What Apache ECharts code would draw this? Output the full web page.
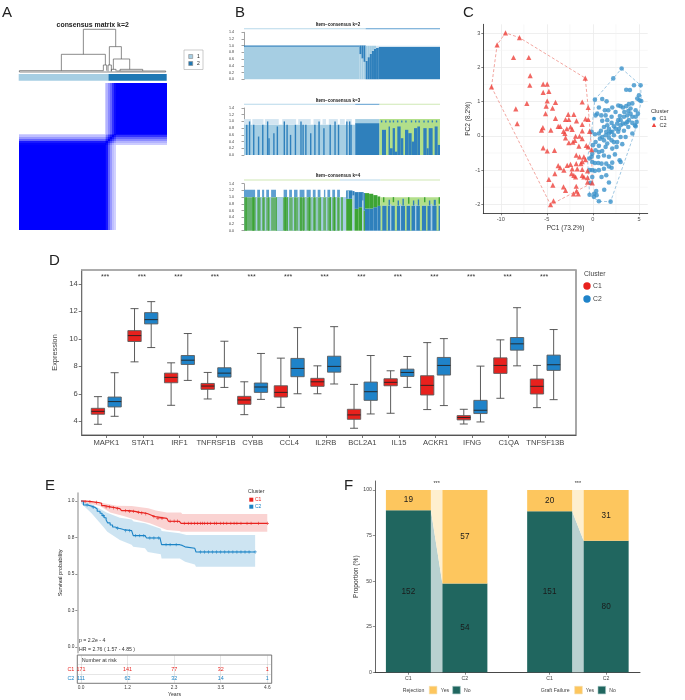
<!DOCTYPE html>
<html><head><meta charset="utf-8">
<style>html,body{margin:0;padding:0;background:#fff}#c{width:685px;height:700px}</style>
<script src="https://cdn.jsdelivr.net/npm/echarts@6/dist/echarts.min.js"></script>
</head><body><div id="c"></div>
<script>
const FF='"Liberation Sans",Arial,sans-serif';
// ---------- Panel A
const sampleClusters=[171,111];
const heatBreaks=[0,164,167,170,174,178,182,185,282];
const consensusBlocks=[
[1,.98,.9,.6,.4,.25,.18,0],
[.98,1,.95,.7,.5,.35,.25,.2],
[.9,.95,1,.85,.7,.55,.4,.3],
[.6,.7,.85,1,.9,.75,.6,.45],
[.4,.5,.7,.9,1,.9,.75,.6],
[.25,.35,.55,.75,.9,1,.9,.8],
[.18,.25,.4,.6,.75,.9,1,.95],
[0,.2,.3,.45,.6,.8,.95,1]];
const dendroSegments=[
[194,128,291,128],[194,128,194,53],[291,128,291,76],
[128,53,260,53],[128,53,128,4],[260,53,260,21],
[2,4,254,4],[2,4,2,0],[254,21,264,21],[254,21,254,4],[264,21,264,4],
[272,76,308,76],[272,76,272,21],[308,76,308,39],
[284,39,333,39],[284,39,284,8],[333,39,333,8],
[268,21,278,21],[268,21,268,2],[278,21,278,2],
[278,8,292,8],[278,8,278,2],[292,8,292,2],
[304,8,372,8],[304,8,304,3],[372,8,372,3],
[294,3,441,3],[441,3,441,0],[2,0,441,0]];
// ---------- Panel B  (runs: first sample, last sample, colour, from, to)
const bPalette=['#A6CEE3','#2F80BC','#B2DF8A','#3DA435','#66B271','#5E9FD1','#D3E5F1'];
const k2Runs=[[0,166,0,0,.97],[0,166,1,.97,1.01],[166,169,0,0,.75],[166,169,1,.75,1.01],[169,172,0,0,.62],[169,172,1,.62,1.01],[172,175,0,0,.52],[172,175,1,.52,1.01],
[175,178,1,0,.55],[175,178,0,.55,1],[178,181,1,0,.66],[178,181,0,.66,1],[181,184,1,0,.76],[181,184,0,.76,1],[184,187,1,0,.85],[184,187,0,.85,1],[187,190,1,0,.91],[187,190,0,.91,1],[190,194,1,0,.94],[190,194,6,.94,1],[194,282,1,0,.96],[194,282,6,.96,1]];
const k3Base=[[0,160,0,0,.9],[160,195,1,0,.95],[160,195,0,.95,1.07],[195,282,2,0,1.07]];
const k3Caps=[[0,10],[12,28],[30,50],[55,75],[78,96],[100,110],[113,118],[122,135],[138,145],[147,155]];
const k3Stripes=[[3,.9],[7,1],[13,.9],[20,.55],[26,.9],[33,1],[35,.5],[42,.65],[47,.85],[57,1],[61,.9],[66,.6],[73,.9],[81,1],[84,.9],[88,.9],[95,.65],[101,.9],[107,1],[114,.8],[123,.9],[130,1],[135,.9],[147,1],[151,1],[153,.9]];
const k3DarkRuns=[[195,198.5,0],[198.5,204.3,.75],[204.3,208,0],[208,210,.85],[210,213.9,.2],[213.9,217.2,.8],[217.2,220.6,.1],[220.6,225.4,.85],[225.4,229.2,.5],[229.2,231.6,0],[231.6,236.4,.75],[236.4,241.2,.65],[241.2,244.6,.4],[244.6,249.4,.8],[249.4,253.2,.85],[253.2,258,0],[258,262.8,.8],[262.8,265.7,.2],[265.7,271.4,.8],[271.4,274.3,0],[274.3,278.6,.85],[278.6,282,.3]];
const k3TopDots=[197,203,209,214,220,226,232,240,246,251,258,264,270,276];
const k4Base=[[0,138,4,0,1]];
const k4Pale=[[17,2],[24,2],[30,2],[37,2],[47,9],[63,2],[70,2],[78,2],[88,2],[97,2],[104,2],[111,3],[118,2],[125,2],[132,2]];
const k4Green=[[2,2],[12,3],[21,1],[28,1],[35,1],[46,1],[58,3],[62,1],[73,1],[81,2],[85,1],[93,2],[101,1],[109,1],[123,2],[129,2],[135,1]];
const k4Caps=[[0,16],[19,23],[26,29],[32,36],[39,46],[57,62],[65,69],[72,77],[80,87],[90,96],[99,103],[106,110],[115,117],[120,124],[127,131],[134,138]];
const k4Right=[[138,147,0,0,1],[140,142,3,0,1],[147,156,3,0,.95],[147,156,1,.95,1.2],[149,151,0,.95,1.2],[156,159,0,0,1.05],[156,159,1,1.05,1.18],
[159,165,3,0,.65],[159,165,1,.65,1.15],[165,170,3,0,.7],[165,170,1,.7,1.15],[170,172,0,0,.9],[170,172,1,.9,1.15],[172,174,3,0,.6],[172,174,1,.6,1.12],
[174,180,1,0,.66],[174,180,3,.66,1.12],[180,186,1,0,.66],[180,186,3,.66,1.1],[186,192,1,0,.7],[186,192,3,.7,1.06],[192,196,1,0,.74],[192,196,3,.74,1.02],
[196,282,1,0,.75],[196,282,2,.75,1],
[196.6,199,2,0,.8],[205,207,2,0,.8],[210,212,0,0,.8],[217,220,2,0,.8],[224.4,226,0,0,.8],[231.6,234,2,0,.8],[239,241,2,0,.8],[246,248,0,0,.8],[253,256,2,0,.8],[262,264,2,0,.8],[268.5,271,0,0,.8],[277,280,2,0,.8],
[200,202,3,.85,1],[208,210,1,.75,.92],[214,216,3,.85,1],[221,223,1,.75,.9],[228,230,1,.75,.95],[236,238,3,.8,1],[243,245,1,.75,.9],[250,252,1,.75,.93],[259,261,3,.85,1],[266,268,1,.75,.9],[273,276,1,.75,.92],[280,282,3,.8,1]];
// ---------- Panel C
const pcaC1=[[3.12,1.97],[2.21,1.68],[4.46,1.48],[5.18,1.48],[3.62,1.35],[4.02,1.34],[5,1.19],[.22,1.06],[1.01,1.08],[1.49,1.01],[4.82,1.09],[5.25,1.02],[3.01,.87],[2.1,.83],[1.67,.75],[1.3,.75],[.65,.83],[.47,.65],[.29,.6],[1.01,.44],[1.56,.46],[2.03,.56],[2.75,.89],[3.26,.83],[3.62,.87],[3.91,.93],[4.28,.95],[4.64,.75],[4.09,.65],[3.73,.6],[3.37,.56],[2.93,.58],[2.46,.7],[2.03,.38],[1.56,.31],[1.2,.26],[.87,.15],[.65,.07],[.22,.05],[-.14,.12],[1.74,.21],[2.1,.12],[2.46,.21],[2.83,.21],[3.26,.36],[3.73,.41],[4.28,.38],[4.64,.28],[3.84,.26],[3.37,.15],[2.75,.12],[2.28,.02],[1.74,.07],[1.38,.02],[1.01,-.03],[1.2,-.13],[.29,-.18],[0,-.27],[.65,-.29],[1.74,-.05],[2.03,-.13],[2.64,-.18],[3.55,-.03],[4.28,.07],[4.57,.31],[3.19,-.24],[2.57,-.32],[2.1,-.37],[1.38,-.32],[1.01,-.44],[.65,-.47],[.29,-.42],[-.07,-.52],[-.36,-.66],[-.14,-.61],[.58,-.61],[1.2,-.57],[1.74,-.61],[2.39,-.54],[2.9,-.71],[3.01,-.76],[2.1,-.78],[1.45,-.81],[.94,-.81],[.22,-.79],[.58,-.79],[-.07,-.76],[1.2,-.96],[1.74,-.89],[2.03,-.93],[.65,-1],[.22,-1.02],[-.07,-1],[-.36,-1],[1.45,-1.15],[.94,-1.2],[-.07,-1.2],[-.25,-1.37],[1.74,-1.36],[1.23,-1.57],[.36,-1.61],[.14,-1.69],[.4,-1.73],[-.36,-1.72],[.11,-1.78],[.65,-1.91],[1.92,-1.92],[4.64,.56],[4.89,.65],[4.28,.56],[3.91,.46],[3.55,.36],[3.01,.31],[2.64,.36],[2.28,.28],[1.92,.12],[1.45,.12],[4.09,.8],[3.84,.73],[3.41,.7],[3.01,.46],[2.75,.46],[4.75,.41],[5.07,1.04],[.91,.6],[1.38,.6],[.76,-.08],[1.56,-.22],[2.28,-.18],[3.01,-.03]];
const pcaC2=[[-9.49,3.01],[-10.4,2.66],[-7.97,2.87],[-8.62,2.29],[-6.96,2.29],[-6.81,1.76],[-6.85,1.48],[-11.01,1.43],[-.83,1.69],[-5.4,1.51],[-4.96,1.51],[-5.4,1.27],[-4.78,1.3],[-7.17,.95],[-8.37,.79],[-8.22,.36],[-4.96,1.02],[-5.07,.87],[-4.06,.98],[-4.38,.81],[-5.14,.65],[-4.06,.51],[-2.68,.63],[-2.07,.63],[-1.16,.99],[-.51,.83],[-2.97,.48],[-2.61,.48],[-1.78,.44],[-.8,.5],[-.51,.48],[-1.16,.34],[-5.43,.24],[-5.58,.17],[-4.57,.17],[-3.77,.28],[-3.55,.28],[-3.19,.13],[-3.04,.07],[-2.43,.26],[-2.25,.19],[-2.83,.21],[-1.16,.15],[-.36,.13],[-1.88,-.01],[-1.45,-.01],[-1.16,-.08],[-2.97,-.06],[-2.61,-.2],[-2.17,-.18],[-1.96,-.13],[-1.52,-.3],[-.72,-.28],[-.51,-.32],[-.14,-.4],[-5.4,-.35],[-4.96,-.44],[-4.17,-.42],[-1.81,-.56],[-1.45,-.61],[-.98,-.61],[-1.81,-.81],[-1.3,-.81],[-.8,-.69],[-1.16,-.75],[-2.43,-.83],[-2.79,-.86],[-3.77,-.87],[-3.55,-.93],[-2.25,-.96],[-1.7,-.96],[-1.16,-.98],[-3.15,-1],[-4.13,-1.1],[-4.78,-1.27],[-4.35,-1.44],[-3.19,-1.49],[-2.97,-1.59],[-2.32,-1.1],[-2.07,-1.15],[-1.88,-1.2],[-1.16,-1.15],[-.98,-1.2],[-.58,-1.02],[-.58,-1.22],[-.58,-1.35],[-.07,-1.37],[-1.81,-1.47],[-1.78,-1.61],[-1.59,-1.69],[-2.1,-1.69],[-4.28,-1.9],[-4.6,-2.01]];
const hullC1=[[3.12,1.97],[5.18,1.48],[5.25,1.02],[4.5,.07],[1.92,-1.92],[.65,-1.91],[-.36,-1.72],[-.58,-.66],[-.14,.12],[.22,1.06],[2.21,1.68],[3.12,1.97]];
const hullC2=[[-11.01,1.43],[-10.4,2.66],[-9.49,3.01],[-7.97,2.87],[-.83,1.69],[-.51,.83],[-.14,-.4],[-.07,-1.37],[-4.6,-2.01],[-11.01,1.43]];
const pcaMinorX=[-7.5,-2.5,2.5];
const pcaMinorY=[-1.5,-.5,.5,1.5,2.5];
// ---------- Panel D  (low, q1, median, q3, high)
const genes=['MAPK1','STAT1','IRF1','TNFRSF1B','CYBB','CCL4','IL2RB','BCL2A1','IL15','ACKR1','IFNG','C1QA','TNFSF13B'];
const boxC1=[[3.78,4.51,4.72,4.94,5.79],[8.32,9.8,10.23,10.59,12.19],[5.16,6.8,7.19,7.5,8.25],[5.62,6.32,6.56,6.75,7.55],[4.48,5.23,5.55,5.81,6.87],[5.01,5.76,6.1,6.58,8.59],[6,6.54,6.87,7.12,8.03],[3.49,4.14,4.46,4.87,6.68],[4.58,6.58,6.83,7.09,7.67],[4.85,5.91,6.61,7.31,9.72],[3.8,4.1,4.27,4.41,4.87],[5.67,7.48,8.06,8.61,9.92],[4.99,5.98,6.54,7.07,8.06]];
const boxC2=[[4.36,5.04,5.43,5.76,7.53],[9.36,11.08,11.39,11.9,12.7],[6.97,8.13,8.44,8.78,10.38],[6.46,7.21,7.5,7.89,9.82],[5.59,6.1,6.49,6.78,8.93],[6,7.24,7.84,8.57,10.81],[6.71,7.57,7.99,8.73,10.88],[4.53,5.52,6.15,6.85,8.78],[6.46,7.26,7.55,7.79,8.71],[5.14,7.36,8.06,8.64,10.01],[3.95,4.56,4.8,5.52,8.01],[8.03,9.17,9.63,10.09,12.26],[5.57,7.7,8.11,8.81,10.67]];
// ---------- Panel E  (time, survival)
const survC1=[[0,1],[.1,.996],[.26,.99],[.43,.984],[.51,.968],[.6,.96],[.72,.954],[.85,.948],[.96,.943],[1,.934],[1.2,.929],[1.33,.922],[1.45,.918],[1.58,.913],[1.65,.903],[1.74,.893],[1.83,.881],[2.12,.877],[2.16,.861],[2.43,.858],[2.47,.847],[4.6,.847]];
const survC2=[[0,1],[.06,.973],[.16,.965],[.26,.957],[.34,.945],[.4,.93],[.47,.916],[.52,.9],[.57,.885],[.62,.87],[.66,.85],[.72,.836],[.78,.822],[.84,.813],[.94,.805],[1.05,.797],[1.25,.795],[1.29,.763],[1.58,.76],[1.62,.747],[1.95,.737],[1.99,.701],[2.44,.696],[2.5,.686],[2.57,.676],[2.81,.674],[2.84,.651],[4.3,.651]];
const bandC1Upper=[[0,1],[.47,.99],[.88,.968],[1.25,.966],[1.66,.95],[1.85,.935],[2.12,.922],[2.47,.922],[2.5,.911],[4.6,.911]];
const bandC1Lower=[[0,.995],[.47,.966],[.72,.922],[1.05,.897],[1.33,.874],[1.7,.847],[2.12,.801],[2.43,.795],[2.47,.79],[4.6,.79]];
const bandC2Upper=[[0,1],[.26,.977],[.63,.922],[.96,.886],[1.25,.874],[1.3,.86],[1.58,.847],[1.97,.81],[1.99,.795],[2.44,.779],[2.6,.767],[4.3,.767]];
const bandC2Lower=[[0,.984],[.26,.916],[.55,.824],[.65,.79],[.96,.733],[1.25,.7],[1.29,.687],[1.58,.676],[1.65,.65],[1.97,.635],[1.99,.607],[2.44,.607],[2.57,.584],[2.81,.565],[2.84,.55],[4.3,.55]];
const censorC1=[.1,.22,.38,.62,.7,.8,.9,1.1,1.2,1.3,1.42,1.5,1.6,1.8,1.9,2,2.2,2.3,2.38,2.55,2.65,2.72,2.8,2.88,2.95,3,3.05,3.12,3.2,3.3,3.35,3.45,3.52,3.6,3.7,3.78,3.85,3.95,4.1,4.2,4.38,4.6];
const censorC2=[.15,.3,.55,.9,1.1,1.2,1.35,1.45,1.55,1.7,1.8,1.92,2.1,2.2,2.35,2.95,3.05,3.15,3.25,3.35,3.45,3.55,3.65,3.75,3.85,3.95,4.05,4.15,4.3];
const riskTimes=[0,1.15,2.3,3.45,4.6];
const riskTickLabels=['0.0','1.2','2.3','3.5','4.6'];
const riskC1=[171,141,77,32,1];
const riskC2=[111,62,32,14,1];
const survTicks=[0,.25,.5,.75,1];
// ---------- Panel F
const stackedTicks=[0,1,2.5,3.5];
const stackedLabels=['C1','C2','C1','C2'];
const countNo=[152,54,151,80];
const countYes=[19,57,20,31];

// ---------- helpers
const C1RED='#E8211D',C2BLUE='#1F83C9',KMR='#E8231F',KMB='#1B83C6';
const TEAL='#20665F',AMBER='#FDC65E';
const pct=i=>countNo[i]/(countNo[i]+countYes[i])*100;
const rectSeries=(g,data,colorOf)=>({type:'custom',xAxisIndex:g,yAxisIndex:g,silent:true,animation:false,data,
 renderItem:(p,api)=>{const a=api.coord([api.value(0),api.value(4)]),b=api.coord([api.value(1),api.value(3)]);
  return {type:'rect',shape:{x:a[0],y:a[1],width:b[0]-a[0],height:b[1]-a[1]},style:{fill:colorOf(api.value(2))}};}});
const hiddenAxis=(g,min,max)=>({gridIndex:g,type:'value',min,max,show:false,splitLine:{show:false}});
const textSeries=(g,data,font,fill)=>({type:'custom',xAxisIndex:g,yAxisIndex:g,silent:true,animation:false,data,z:9,clip:false,
 renderItem:(p,api)=>{const c=api.coord([api.value(0),api.value(1)]);
  return {type:'text',x:c[0],y:c[1],style:{text:String(data[p.dataIndex][2]),fill,font,align:'center',verticalAlign:'middle',textAlign:'center',textVerticalAlign:'middle'}};}});
const T=(text,x,y,size,o={})=>({type:'text',silent:true,z:20,rotation:o.rot||0,x,y,style:{text,font:(o.bold?'bold ':'')+size+'px '+FF,fill:o.fill||'#222',align:o.align||'left',verticalAlign:'middle',textAlign:o.align||'left',textVerticalAlign:'middle'}});
const R=(x,y,w,h,fill,stroke)=>({type:'rect',silent:true,z:20,shape:{x,y,width:w,height:h},style:{fill,stroke:stroke||null,lineWidth:stroke?.6:0}});
const Cc=(cx,cy,r,fill)=>({type:'circle',silent:true,z:20,shape:{cx,cy,r},style:{fill}});

// grids
const grid=[
 {left:18.7,top:82.7,width:148,height:147.7},
 {left:18.7,top:74,width:148,height:6.7},
 {left:18.7,top:29.3,width:148,height:42.7},
 {left:244,top:32.3,width:196,height:47},
 {left:244,top:108,width:196,height:47},
 {left:244,top:183.7,width:196,height:47},
 {left:483.3,top:24.3,width:164.4,height:189},
 {left:81.7,top:270,width:494.3,height:165,show:true,borderColor:'#6e6e6e',borderWidth:1.2},
 {left:77.3,top:493,width:194.4,height:159.7},
 {left:77.3,top:655,width:194.4,height:28.3,show:true,borderColor:'#555',borderWidth:.8},
 {left:375,top:481,width:265,height:191.3}
];
const bY=g=>({gridIndex:g,type:'value',min:0,max:1.4,interval:.2,offset:8,
 axisLine:{show:true,lineStyle:{color:'#444',width:.5}},axisTick:{show:true,length:2.5,lineStyle:{color:'#444',width:.5}},
 axisLabel:{fontSize:3.6,color:'#333',margin:2,fontFamily:FF,formatter:v=>v.toFixed(1)},splitLine:{show:false}});
const xAxis=[
 hiddenAxis(0,0,282),hiddenAxis(1,0,282),hiddenAxis(2,0,444),
 hiddenAxis(3,0,282),hiddenAxis(4,0,282),hiddenAxis(5,0,282),
 {gridIndex:6,type:'value',min:-11.9,max:5.95,name:'PC1 (73.2%)',nameLocation:'middle',nameGap:11,nameTextStyle:{fontSize:6.6,color:'#333',fontFamily:FF},
  axisLine:{onZero:false,lineStyle:{color:'#222',width:.8}},axisTick:{length:2,customValues:[-10,-5,0,5],lineStyle:{color:'#333',width:.6}},
  axisLabel:{customValues:[-10,-5,0,5],fontSize:5.6,color:'#4d4d4d',margin:3,fontFamily:FF},splitLine:{show:true,lineStyle:{color:'#ebebeb',width:.8}}},
 {gridIndex:7,type:'value',min:-.672,max:12.839,axisLine:{onZero:false,lineStyle:{color:'#555',width:1}},
  axisTick:{length:3,customValues:genes.map((_,i)=>i),lineStyle:{color:'#555',width:.8}},
  axisLabel:{customValues:genes.map((_,i)=>i),formatter:v=>genes[v],fontSize:7.6,color:'#444',margin:4,fontFamily:FF,hideOverlap:false},splitLine:{show:false}},
 {gridIndex:8,type:'value',min:-.0914,max:4.709,show:false,splitLine:{show:false}},
 {gridIndex:9,type:'value',min:-.0914,max:4.709,axisLine:{onZero:false,lineStyle:{color:'#333',width:.9}},
  axisTick:{length:2,customValues:riskTimes,lineStyle:{color:'#333',width:.6}},
  axisLabel:{customValues:riskTimes,formatter:v=>riskTickLabels[riskTimes.indexOf(v)],fontSize:4.8,color:'#444',margin:2,fontFamily:FF},
  name:'Years',nameLocation:'middle',nameGap:9,nameTextStyle:{fontSize:5.2,color:'#333',fontFamily:FF},
  splitLine:{show:true,lineStyle:{color:'#999',width:.5,type:'dotted'}}},
 {gridIndex:10,type:'value',min:-.591,max:4.099,axisLine:{onZero:false,lineStyle:{color:'#333',width:.9}},
  axisTick:{length:2.4,customValues:stackedTicks,lineStyle:{color:'#333',width:.6}},
  axisLabel:{customValues:stackedTicks,formatter:v=>stackedLabels[stackedTicks.indexOf(v)],fontSize:5.2,color:'#444',margin:3.5,fontFamily:FF},splitLine:{show:false}}
];
const yAxis=[
 hiddenAxis(0,0,282),hiddenAxis(1,0,1),hiddenAxis(2,0,128),
 bY(3),bY(4),bY(5),
 {gridIndex:6,type:'value',min:-2.26,max:3.26,name:'PC2 (8.2%)',nameLocation:'middle',nameGap:10,nameTextStyle:{fontSize:6.6,color:'#333',fontFamily:FF},
  axisLine:{show:true,onZero:false,lineStyle:{color:'#222',width:.8}},axisTick:{show:true,length:2,customValues:[-2,-1,0,1,2,3],lineStyle:{color:'#333',width:.6}},
  axisLabel:{customValues:[-2,-1,0,1,2,3],fontSize:5.6,color:'#4d4d4d',margin:3,fontFamily:FF},splitLine:{show:true,lineStyle:{color:'#ebebeb',width:.8}}},
 {gridIndex:7,type:'value',min:3,max:15,name:'Expression',nameLocation:'middle',nameGap:12,nameTextStyle:{fontSize:7.4,color:'#444',fontFamily:FF},
  axisLine:{show:true,onZero:false,lineStyle:{color:'#6e6e6e',width:1}},axisTick:{show:true,length:3,customValues:[4,6,8,10,12,14],lineStyle:{color:'#555',width:.8}},
  axisLabel:{customValues:[4,6,8,10,12,14],fontSize:7.6,color:'#444',margin:4,fontFamily:FF},splitLine:{show:false}},
 {gridIndex:8,type:'value',min:-.039,max:1.0548,name:'Survival probability',nameLocation:'middle',nameGap:11,nameTextStyle:{fontSize:5.6,color:'#222',fontFamily:FF},
  axisLine:{show:true,onZero:false,lineStyle:{color:'#b4b4b4',width:1.6}},axisTick:{show:true,length:2,customValues:survTicks,lineStyle:{color:'#444',width:.6}},
  axisLabel:{customValues:survTicks,formatter:v=>v.toFixed(1),fontSize:4.8,color:'#333',margin:3,fontFamily:FF},splitLine:{show:false}},
 {gridIndex:9,type:'category',data:['C2','C1','Number at risk'],axisLine:{show:false},axisTick:{show:false},
  axisLabel:{formatter:v=>v==='Number at risk'?'':v,color:v=>v==='C1'?KMR:KMB,fontSize:5.4,margin:3,fontFamily:FF},
  splitLine:{show:true,lineStyle:{color:'#999',width:.5,type:'dotted'}}},
 {gridIndex:10,type:'value',min:0,max:104.9,name:'Proportion (%)',nameLocation:'middle',nameGap:14,nameTextStyle:{fontSize:6.6,color:'#333',fontFamily:FF},
  axisLine:{show:true,onZero:false,lineStyle:{color:'#666',width:1}},axisTick:{show:true,length:2.2,customValues:[0,25,50,75,100],lineStyle:{color:'#444',width:.6}},
  axisLabel:{customValues:[0,25,50,75,100],fontSize:5.2,color:'#444',margin:3,fontFamily:FF},splitLine:{show:false}}
];

// ---------- series
const series=[];
// A heat
const heatCells=[];
consensusBlocks.forEach((row,r)=>row.forEach((v,c)=>heatCells.push([heatBreaks[c],heatBreaks[c+1],v,heatBreaks[r],heatBreaks[r+1]])));
series.push({type:'custom',xAxisIndex:0,yAxisIndex:0,silent:true,animation:false,data:heatCells,
 renderItem:(p,api)=>{const a=api.coord([api.value(0),api.value(4)]),b=api.coord([api.value(1),api.value(3)]);
  const x=Math.round(a[0]),y=Math.round(a[1]),w=Math.round(b[0])-x,h=Math.round(b[1])-y,k=Math.round(255*(1-api.value(2)));
  return {type:'rect',shape:{x,y,width:w,height:h},style:{fill:`rgb(${k},${k},255)`}};}});
series.push(rectSeries(1,[[0,sampleClusters[0],0,0,1],[sampleClusters[0],282,1,0,1]],i=>['#A6CEE3','#1F78B4'][i]));
series.push({type:'custom',xAxisIndex:2,yAxisIndex:2,silent:true,animation:false,data:dendroSegments,
 renderItem:(p,api)=>{const a=api.coord([api.value(0),api.value(1)]),b=api.coord([api.value(2),api.value(3)]);
  return {type:'line',shape:{x1:a[0],y1:a[1],x2:b[0],y2:b[1]},style:{stroke:'#5a5a5a',lineWidth:.7}};}});
// B
const bColor=i=>bPalette[i];
const stripW=(arr,col,y0,y1)=>arr.map(a=>[a[0],a[0]+a[1],col,y0,y1]);
const k3Data=[...k3Base,...k3Caps.map(c=>[c[0],c[1],6,.9,1.07]),
  ...k3Stripes.map(s=>[s[0],s[0]+2,1,0,s[1]]),
  ...k3DarkRuns.map(r=>[r[0],r[1],1,0,r[2]]),
  ...k3TopDots.map(d=>[d,d+2,1,.97,1.03])];
const k4Data=[...k4Base,...k4Caps.map(c=>[c[0],c[1],5,1,1.22]),...stripW(k4Pale,0,0,1),...stripW(k4Green,3,0,1),...k4Right];
[[3,k2Runs],[4,k3Data],[5,k4Data]].forEach(([g,d])=>series.push(rectSeries(g,d,bColor)));
const stripes=[[3,[[0,175,0],[175,282,1]],1.49],[4,[[0,160,6],[160,195,1],[195,282,2]],1.495],[5,[[0,138,2],[138,196,6],[196,282,2]],1.495]];
stripes.forEach(([g,runs,v])=>series.push(Object.assign(rectSeries(g,runs.map(r=>[r[0],r[1],r[2],v,v+.03]),i=>[ '#B7D8EA','#5E9FD1','#CFE8B4','','','','#B7D8EA'][i]),{clip:false})));
// C
const rules=[...pcaMinorX.map(v=>[v,-2.26,v,3.26]),...pcaMinorY.map(v=>[-11.9,v,5.95,v])];
series.push({type:'custom',xAxisIndex:6,yAxisIndex:6,silent:true,animation:false,data:rules,z:0,
 renderItem:(p,api)=>{const a=api.coord([api.value(0),api.value(1)]),b=api.coord([api.value(2),api.value(3)]);
  return {type:'line',shape:{x1:a[0],y1:a[1],x2:b[0],y2:b[1]},style:{stroke:'#f3f3f3',lineWidth:.6}};}});
const hull=(d,c)=>({type:'line',xAxisIndex:6,yAxisIndex:6,data:d,symbol:'none',silent:true,animation:false,z:2,lineStyle:{color:c,width:.8,type:[3,2]}});
series.push(hull(hullC1,'#86B9DB'),hull(hullC2,'#EF8F88'));
series.push({name:'C1',type:'scatter',xAxisIndex:6,yAxisIndex:6,data:pcaC1,symbol:'circle',symbolSize:4.6,animation:false,silent:true,z:3,itemStyle:{color:'#3B92CB'}});
series.push({name:'C2',type:'scatter',xAxisIndex:6,yAxisIndex:6,data:pcaC2,symbol:'triangle',symbolSize:5.2,animation:false,silent:true,z:3,itemStyle:{color:'#EE423C'}});
// D
const boxSeries=(name,d,off,fill)=>({name,type:'custom',xAxisIndex:7,yAxisIndex:7,silent:true,animation:false,z:3,
 data:d.map((v,i)=>[i,...v]),
 renderItem:(p,api)=>{const i=api.value(0),px=v=>api.coord([i+off,v]);
  const lo=px(api.value(1)),q1=px(api.value(2)),m=px(api.value(3)),q3=px(api.value(4)),hi=px(api.value(5));
  const x=lo[0],hb=6.65,hc=4,ws={stroke:'#4a4a4a',lineWidth:.9};
  return {type:'group',children:[
   {type:'line',shape:{x1:x,y1:hi[1],x2:x,y2:lo[1]},style:ws},
   {type:'line',shape:{x1:x-hc,y1:hi[1],x2:x+hc,y2:hi[1]},style:ws},
   {type:'line',shape:{x1:x-hc,y1:lo[1],x2:x+hc,y2:lo[1]},style:ws},
   {type:'rect',shape:{x:x-hb,y:q3[1],width:2*hb,height:q1[1]-q3[1]},style:{fill,stroke:'#5c5c5c',lineWidth:.9}},
   {type:'line',shape:{x1:x-hb,y1:m[1],x2:x+hb,y2:m[1]},style:{stroke:'#222',lineWidth:.9}}]};}});
series.push(boxSeries('C1',boxC1,-.228,C1RED),boxSeries('C2',boxC2,.228,C2BLUE));
series.push(textSeries(7,genes.map((_,i)=>[i-.03,14.5,'***']),'7px '+FF,'#333'));
// E
const band=(g,upper,lower,fill)=>({type:'custom',xAxisIndex:g,yAxisIndex:g,silent:true,animation:false,z:1,data:[[0,0]],
 renderItem:(p,api)=>({type:'polygon',shape:{points:upper.map(q=>api.coord(q)).concat(lower.map(q=>api.coord(q)).reverse())},style:{fill}})});
series.push(band(8,bandC2Upper,bandC2Lower,'rgba(27,131,198,.22)'),band(8,bandC1Upper,bandC1Lower,'rgba(232,35,31,.2)'));
const kmLine=(name,d,c)=>({name,type:'line',xAxisIndex:8,yAxisIndex:8,data:d,step:'end',symbol:'none',silent:true,animation:false,z:3,lineStyle:{color:c,width:1.1}});
series.push(kmLine('C2',survC2,KMB),kmLine('C1',survC1,KMR));
const atTime=(curve,t)=>{let s=curve[0][1];curve.forEach(q=>{if(q[0]<=t)s=q[1];});return s;};
const censor=(times,curve,c)=>({type:'scatter',xAxisIndex:8,yAxisIndex:8,data:times.map(t=>[t,atTime(curve,t)]),silent:true,animation:false,z:4,
 symbol:'path://M4 0H6V4H10V6H6V10H4V6H0V4H4Z',symbolSize:3.4,itemStyle:{color:c}});
series.push(censor(censorC2,survC2,KMB),censor(censorC1,survC1,KMR));
series.push(textSeries(9,riskC1.map((v,i)=>[riskTimes[i],1,v]),'5.4px '+FF,KMR));
series.push(textSeries(9,riskC2.map((v,i)=>[riskTimes[i],0,v]),'5.4px '+FF,KMB));
// F
const hb=.398;
const ribbons=[
 [0,1,0,0,pct(0),pct(1),0],[0,1,pct(0),pct(1),100,100,1],
 [2,3,0,0,pct(2),pct(3),0],[2,3,pct(2),pct(3),100,100,1]];
series.push({type:'custom',xAxisIndex:10,yAxisIndex:10,silent:true,animation:false,z:1,data:ribbons,
 renderItem:(p,api)=>{const x0=stackedTicks[api.value(0)]+hb,x1=stackedTicks[api.value(1)]-hb;
  const P=(x,y)=>api.coord([x,y]);
  return {type:'polygon',shape:{points:[P(x0,api.value(2)),P(x1,api.value(3)),P(x1,api.value(5)),P(x0,api.value(4))]},style:{fill:['#B9D1D0','#FEEFCF'][api.value(6)]}};}});
const stackedBars=[];
stackedTicks.forEach((x,i)=>{stackedBars.push([x-hb,x+hb,0,0,pct(i)],[x-hb,x+hb,1,pct(i),100]);});
series.push(rectSeries(10,stackedBars,i=>[TEAL,AMBER][i]));
const stackedText=[];
stackedTicks.forEach((x,i)=>{stackedText.push([x,pct(i)/2,countNo[i]],[x,(pct(i)+100)/2,countYes[i]]);});
series.push(textSeries(10,stackedText,'8.2px '+FF,'#1a1a1a'));
series.push(textSeries(10,[[.5,103.3,'***'],[3,103.3,'***']],'5.5px '+FF,'#333'));

// ---------- annotations
const graphic=[
 T('A',2,12.5,15),T('B',235,12.5,15),T('C',463,12.5,15),T('D',49,260.5,15),T('E',45,485.5,15),T('F',344,485.5,15),
 T('consensus matrix k=2',92.7,25.5,6.9,{bold:true,align:'center'}),
 R(184,50,19,19.5,'#fff','#aaa'),R(188.7,54.5,4,4,'#A6CEE3','#888'),R(188.7,61.5,4,4,'#1F78B4','#888'),T('1',197,56.7,5,{}),T('2',197,63.5,5,{}),
 T('Item−consensus k=2',338,25,4.5,{bold:true,align:'center'}),
 T('Item−consensus k=3',338,100.3,4.5,{bold:true,align:'center'}),
 T('Item−consensus k=4',338,176,4.5,{bold:true,align:'center'}),
 T('Cluster',651,111.7,5.6,{fill:'#333'}),
 Cc(654,118.7,1.9,'#3B92CB'),T('C1',659.5,118.7,5.6,{fill:'#333'}),
 {type:'polygon',silent:true,z:20,shape:{points:[[654,123],[656.2,127],[651.8,127]]},style:{fill:'#EE423C'}},T('C2',659.5,125.3,5.6,{fill:'#333'}),
 {type:'line',silent:true,z:20,shape:{x1:81,y1:270,x2:576.5,y2:270},style:{stroke:'#a8a8a8',lineWidth:1.6}},
 T('Cluster',584,274.3,6.8,{fill:'#444'}),
 Cc(587,286,3.7,C1RED),T('C1',593,286.3,6.8,{fill:'#444'}),
 Cc(587,299,3.7,C2BLUE),T('C2',593,299.3,6.8,{fill:'#444'}),
 T('Cluster',248,491.7,5.2,{fill:'#333'}),
 R(249.3,497.7,4,4,KMR),T('C1',255,499.7,5,{fill:KMR}),
 R(249.3,504.7,4,4,KMB),T('C2',255,506.7,5,{fill:KMB}),
 T('p = 2.2e - 4',79,641,5.2,{fill:'#333'}),
 T('HR = 2.76 ( 1.57 - 4.85 )',79,650,5.2,{fill:'#333'}),
 T('Number at risk',81.7,660.5,5.4,{fill:'#333'}),
 T('Rejection',402.7,690.3,5.2,{fill:'#444'}),
 R(429.3,686.3,7.6,7.6,AMBER,'#f2dba8'),T('Yes',440.7,690.3,5.2,{fill:'#444'}),
 R(452.7,686.3,7.6,7.6,TEAL,'#9fc2bf'),T('No',464,690.3,5.2,{fill:'#444'}),
 T('Graft Failure',540.7,690.3,5.2,{fill:'#444'}),
 R(574.7,686.3,7.6,7.6,AMBER,'#f2dba8'),T('Yes',585.7,690.3,5.2,{fill:'#444'}),
 R(598,686.3,7.6,7.6,TEAL,'#9fc2bf'),T('No',609.3,690.3,5.2,{fill:'#444'})
];
const chart=echarts.init(document.getElementById('c'),null,{renderer:'canvas'});
chart.setOption({backgroundColor:'#fff',animation:false,textStyle:{fontFamily:FF},tooltip:{show:false},grid,xAxis,yAxis,series,graphic});
</script></body></html>
